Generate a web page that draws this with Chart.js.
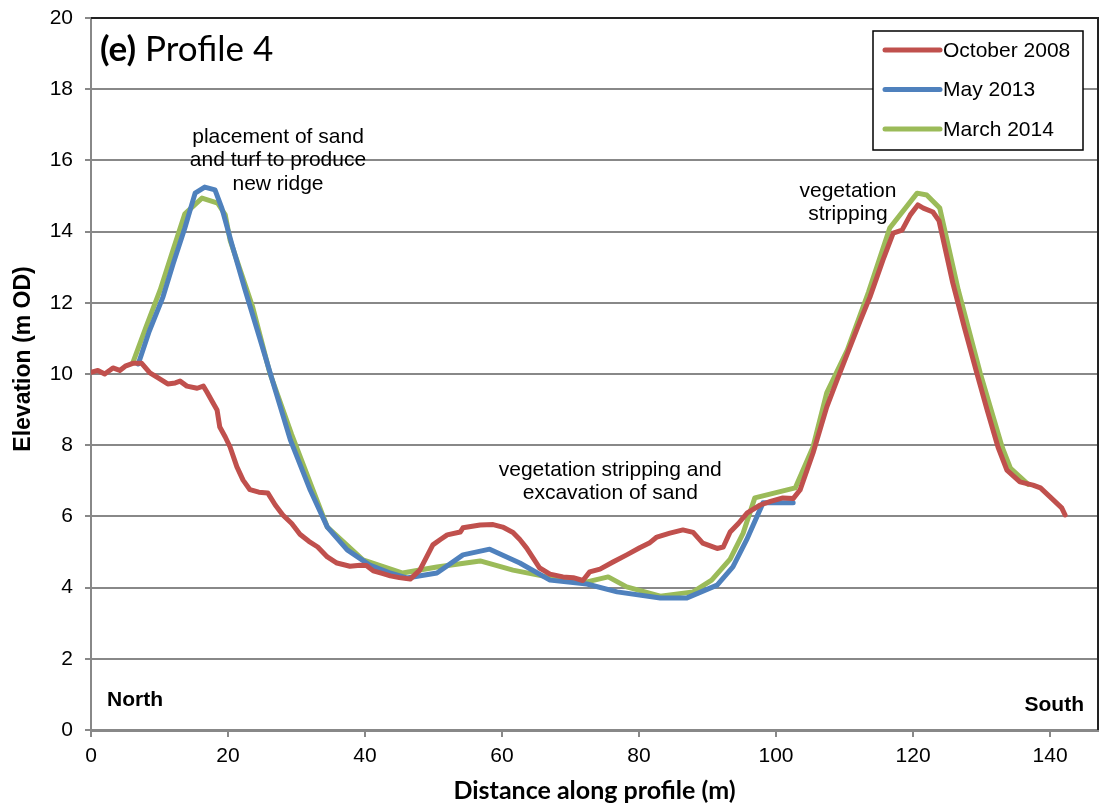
<!DOCTYPE html>
<html>
<head>
<meta charset="utf-8">
<script src="https://cdn.jsdelivr.net/npm/chart.js@4.4.1/dist/chart.umd.min.js"></script>
<style>
html,body{margin:0;padding:0;background:#fff;}
#wrap{width:1102px;height:807px;position:relative;}
</style>
</head>
<body>
<div id="wrap"><canvas id="c" width="1102" height="807"></canvas></div>
<script>
const seriesNames = ["October 2008", "May 2013", "March 2014"];
const seriesColors = ["#C0504D", "#4F81BD", "#9BBB59"];

const redX = [0,1,2,3.2,4.2,5,6.1,7.4,8.6,9.8,11.2,12.3,13,14,15.5,16.4,16.9,17.8,18.4,18.8,19.6,20.3,21.3,22.2,23.2,24.5,25.8,26.9,28,29.3,30.5,31.8,33.1,34.5,35.9,37.8,39.3,40.2,41.2,42.5,43.7,45,46.6,48,49.9,51,52,53.9,54.3,56.8,58.7,60.1,61.6,62.6,63.6,65.5,67,68.9,70.4,71.8,72.8,74.3,76.2,78.2,80.1,81.5,82.6,84.5,86.4,87.9,89.3,91.4,92.3,93.3,94.5,95.8,97.7,99.2,101,102.5,103.5,105.4,107.4,108.9,110.8,112.3,113.7,115.6,117.1,118.4,119.6,120.7,121.5,122.9,123.8,125.8,127.5,129.3,130.8,132.4,133.7,135.6,137.5,138.6,140,141.7,142.2];
const redY = [10.05,10.1,10.0,10.17,10.1,10.22,10.3,10.3,10.03,9.89,9.72,9.75,9.8,9.66,9.6,9.66,9.5,9.19,8.99,8.51,8.23,7.95,7.39,7.02,6.75,6.68,6.66,6.32,6.04,5.8,5.5,5.3,5.14,4.86,4.69,4.6,4.63,4.62,4.47,4.4,4.33,4.28,4.24,4.49,5.2,5.35,5.48,5.56,5.68,5.76,5.77,5.7,5.55,5.35,5.11,4.55,4.38,4.3,4.28,4.2,4.44,4.52,4.72,4.92,5.12,5.25,5.42,5.53,5.62,5.55,5.25,5.1,5.14,5.56,5.8,6.1,6.32,6.42,6.52,6.5,6.74,7.78,9.07,9.83,10.76,11.5,12.16,13.2,13.96,14.04,14.47,14.75,14.66,14.55,14.3,12.56,11.3,10.03,9.0,7.95,7.3,6.97,6.88,6.8,6.55,6.24,6.04];

const blueX = [6.9,8.5,10.5,12,13.7,15.2,16.6,18.1,19.1,20.6,22.5,24.7,26.9,29.1,32,34.5,37.4,40.7,43.5,46.1,50.5,54.3,58.2,62.6,67,72.4,76.8,83.1,87,91.4,93.7,95.7,98.1,102.5];
const blueY = [10.28,11.2,12.16,13.1,14.1,15.08,15.25,15.17,14.66,13.62,12.36,10.96,9.55,8.15,6.74,5.7,5.06,4.63,4.42,4.27,4.41,4.92,5.08,4.69,4.21,4.1,3.88,3.71,3.71,4.07,4.58,5.34,6.38,6.38];

const greenX = [6.1,8,10.1,12,13.7,16.2,18.5,19.6,20.3,23.6,26.1,29.3,32.2,34.5,39.7,45.5,50.5,56.8,61.6,66.6,72.4,75.5,78.2,83.1,87.9,90.6,93.3,95.2,96.9,102.8,105.4,107.4,110.4,113.5,116.6,120.6,122,123.9,126.6,129.8,133,134.2,136.8];
const greenY = [10.31,11.3,12.36,13.5,14.5,14.94,14.8,14.47,13.76,11.88,10.03,8.3,6.84,5.7,4.78,4.41,4.58,4.75,4.49,4.3,4.16,4.3,4.02,3.76,3.88,4.21,4.8,5.53,6.52,6.8,7.95,9.47,10.67,12.3,14.1,15.08,15.03,14.66,12.36,10.03,7.95,7.36,6.9];

const xTicks = [0,20,40,60,80,100,120,140];
const yTicks = [0,2,4,6,8,10,12,14,16,18,20];

const titleBold = "(e)";
const titleRest = " Profile 4";
const xTitle = "Distance along profile (m)";
const yTitle = "Elevation (m OD)";
const annotations = [
  {lines:["placement of sand","and turf to produce","new ridge"], x:27.3, y:16.66},
  {lines:["vegetation stripping and","excavation of sand"], x:75.8, y:7.3},
  {lines:["vegetation","stripping"], x:110.5, y:15.14}
];

function pts(xs, ys){ return xs.map((x,i)=>({x:x, y:ys[i]})); }

const datasets = [
  {label: seriesNames[0], data: pts(redX, redY), borderColor: seriesColors[0]},
  {label: seriesNames[1], data: pts(blueX, blueY), borderColor: seriesColors[1]},
  {label: seriesNames[2], data: pts(greenX, greenY), borderColor: seriesColors[2]}
].map(d => Object.assign(d, {borderWidth:5, pointRadius:0, tension:0, fill:false, borderJoinStyle:'round', borderCapStyle:'round'}));

const ARIAL = '"Liberation Sans", Arial, sans-serif';

const decor = {
  id:'decor',
  afterDraw(chart){
    const ctx = chart.ctx, a = chart.chartArea;
    const xs = chart.scales.x, ys = chart.scales.y;
    ctx.save();
    ctx.strokeStyle = '#222'; ctx.lineWidth = 2;
    ctx.beginPath(); ctx.moveTo(a.left, a.top); ctx.lineTo(a.right, a.top); ctx.lineTo(a.right, a.bottom); ctx.stroke();
    ctx.fillStyle = '#000'; ctx.textBaseline = 'alphabetic'; ctx.textAlign = 'left';
    ctx.font = 'bold 35px Lato, "Open Sans", sans-serif';
    ctx.fillText(titleBold, 100, 61);
    const w = ctx.measureText(titleBold).width;
    ctx.font = '35px Lato, "Open Sans", sans-serif';
    ctx.fillText(titleRest, 100 + w, 61);
    ctx.save();
    ctx.translate(24, 359);
    ctx.rotate(-Math.PI/2);
    ctx.font = 'bold 23px ' + ARIAL;
    ctx.textAlign = 'center'; ctx.textBaseline = 'middle';
    ctx.fillText(yTitle, 0, 0);
    ctx.restore();
    ctx.font = '21px ' + ARIAL;
    ctx.textAlign = 'center'; ctx.textBaseline = 'middle';
    annotations.forEach(an => {
      const cx = xs.getPixelForValue(an.x);
      const cy = ys.getPixelForValue(an.y);
      an.lines.forEach((l,i) => ctx.fillText(l, cx, cy + i*23.5));
    });
    ctx.font = 'bold 21px ' + ARIAL;
    ctx.textAlign = 'left';
    ctx.fillText('North', 107, 700);
    ctx.textAlign = 'right';
    ctx.fillText('South', 1084, 705);
    const lx = 873, ly = 31, lw = 210, lh = 119;
    ctx.fillStyle = '#fff'; ctx.fillRect(lx, ly, lw, lh);
    ctx.strokeStyle = '#000'; ctx.lineWidth = 1.5; ctx.strokeRect(lx, ly, lw, lh);
    ctx.font = '21px ' + ARIAL;
    ctx.textAlign = 'left'; ctx.textBaseline = 'middle';
    chart.data.datasets.forEach((d,i) => {
      const yy = ly + 19 + i*39.5;
      ctx.strokeStyle = d.borderColor; ctx.lineWidth = 5; ctx.lineCap = 'round';
      ctx.beginPath(); ctx.moveTo(lx + 12, yy); ctx.lineTo(lx + 67, yy); ctx.stroke();
      ctx.fillStyle = '#000';
      ctx.fillText(d.label, lx + 70, yy + 1);
    });
    ctx.restore();
  }
};

new Chart(document.getElementById('c'), {
  type: 'line',
  data: { datasets },
  plugins: [decor],
  options: {
    responsive: false,
    animation: false,
    layout: { padding: {left: 0, top: 18, right: 4, bottom: 0} },
    plugins: { legend: {display:false}, tooltip: {enabled:false} },
    scales: {
      x: {
        type: 'linear', min: 0, max: 147,
        afterFit(s){ s.height = 77; s.paddingRight = 0; s.paddingLeft = 0; },
        afterBuildTicks(s){ s.ticks = xTicks.map(v => ({value:v})); },
        ticks: { stepSize: 20, includeBounds:false, color:'#000', padding: 7,
          font: {family: ARIAL, size: 21} },
        grid: { drawOnChartArea:false, drawTicks:true, tickLength:7, color:'#888', lineWidth:2 },
        border: { color:'#888', width:3 },
        title: { display:true, text: xTitle, color:'#000', padding: {top: 0, bottom: 1},
          font: {family:'Lato, "Open Sans", sans-serif', size: 25, weight:'bold'} }
      },
      y: {
        type: 'linear', min: 0, max: 20,
        afterFit(s){ s.width = 91; s.paddingTop = 0; s.paddingBottom = 0; },
        afterBuildTicks(s){ s.ticks = yTicks.map(v => ({value:v})); },
        ticks: { stepSize: 2, color:'#000', padding: 12,
          font: {family: ARIAL, size: 21} },
        grid: { color:'#888', lineWidth:2, tickLength:6 },
        border: { color:'#888', width:2 },
        title: { display:false }
      }
    }
  }
});
</script>
</body>
</html>
